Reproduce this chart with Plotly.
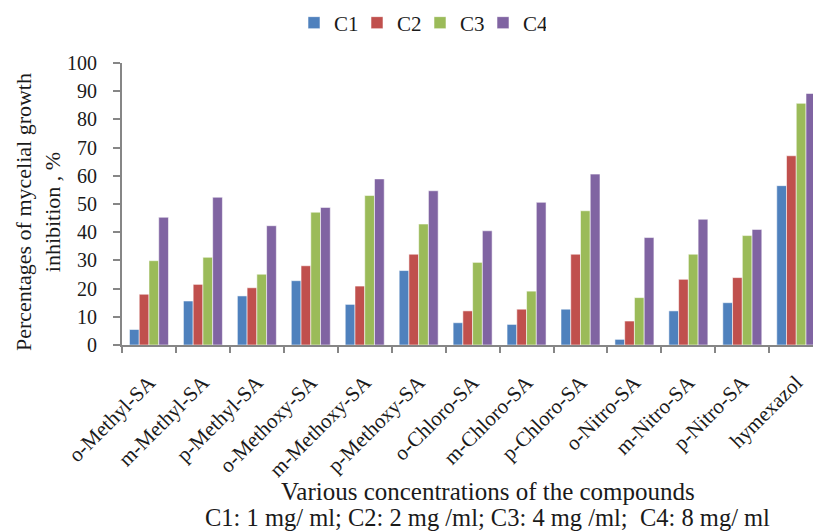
import plotly.graph_objects as go

categories = ["o-Methyl-SA", "m-Methyl-SA", "p-Methyl-SA", "o-Methoxy-SA", "m-Methoxy-SA",
              "p-Methoxy-SA", "o-Chloro-SA", "m-Chloro-SA", "p-Chloro-SA", "o-Nitro-SA",
              "m-Nitro-SA", "p-Nitro-SA", "hymexazol"]
c1 = [5.5, 15.6, 17.4, 22.8, 14.4, 26.4, 7.9, 7.3, 12.7, 2.0, 12.1, 15.0, 56.5]
c2 = [18.0, 21.5, 20.3, 28.1, 20.9, 32.2, 12.1, 12.7, 32.2, 8.5, 23.3, 23.9, 67.1]
c3 = [29.9, 31.1, 25.1, 47.1, 53.0, 42.9, 29.3, 19.1, 47.6, 16.8, 32.2, 38.8, 85.7]
c4 = [45.3, 52.4, 42.3, 48.8, 58.9, 54.7, 40.5, 50.6, 60.6, 38.1, 44.6, 41.0, 89.2]
series_names = ["C1", "C2", "C3", "C4"]
colors = ["#4F81BD", "#C0504D", "#9BBB59", "#8064A2"]

SERIF = "Liberation Serif, Times New Roman, serif"

fig = go.Figure()
for name, vals, col in zip(series_names, [c1, c2, c3, c4], colors):
    fig.add_trace(go.Bar(x=categories, y=vals, name=name, marker_color=col,
                         marker_line=dict(color="rgba(255,255,255,0.55)", width=1)))

W, H = 813, 531
L, R, T, B = 122, 0, 63, 186
pw = W - L - R
ph = H - T - B
cat_w = 53.94

def px_x(p):
    return (p - L) / pw

def px_y(p):
    return (H - B - p) / ph

fig.update_layout(
    width=W, height=H, template="none",
    paper_bgcolor="white", plot_bgcolor="white",
    margin=dict(l=L, r=R, t=T, b=B, autoexpand=False),
    barmode="group", bargap=0.277, bargroupgap=0,
    font=dict(family=SERIF, color="#1a1a1a"),
    showlegend=True,
    legend=dict(orientation="h", x=px_x(294), xanchor="left", y=px_y(23), yanchor="middle",
                font=dict(family=SERIF, size=21, color="#1a1a1a"), itemwidth=30,
                entrywidth=18, entrywidthmode="pixels",
                bgcolor="rgba(0,0,0,0)", traceorder="normal"),
    xaxis=dict(range=[-0.5, -0.5 + pw / cat_w], showgrid=False, zeroline=False,
               showline=True, linecolor="#868686", linewidth=2,
               ticks="outside", tickson="boundaries", ticklen=6, tickcolor="#868686", tickwidth=1.5,
               tickangle=-45, tickfont=dict(family=SERIF, size=21, color="#1a1a1a"),
               ticklabelstandoff=15, automargin=False),
    yaxis=dict(range=[0, 100], tickmode="array", tickvals=list(range(0, 101, 10)),
               showgrid=False, zeroline=False,
               showline=True, linecolor="#868686", linewidth=2,
               ticks="outside", ticklen=7, tickcolor="#868686", tickwidth=1.5,
               tickfont=dict(family=SERIF, size=20, color="#1a1a1a"),
               ticklabelstandoff=12, automargin=False),
    annotations=[
        dict(text="Percentages of mycelial growth<br>inhibition , %", textangle=-90,
             xref="paper", yref="paper", x=px_x(38), y=px_y(212),
             xanchor="center", yanchor="middle", showarrow=False,
             font=dict(family=SERIF, size=22, color="#1a1a1a")),
        dict(text="Various concentrations of the compounds",
             xref="paper", yref="paper", x=px_x(488), y=px_y(491),
             xanchor="center", yanchor="middle", showarrow=False,
             font=dict(family=SERIF, size=25, color="#1a1a1a")),
        dict(text="C1: 1 mg/ ml; C2: 2 mg /ml; C3: 4 mg /ml;  C4: 8 mg/ ml",
             xref="paper", yref="paper", x=px_x(487), y=px_y(517),
             xanchor="center", yanchor="middle", showarrow=False,
             font=dict(family=SERIF, size=24.5, color="#1a1a1a")),
    ],
)

# remove the default page margin so the 813x531 figure fills the window exactly
fig.write_html("out.html", config={"displayModeBar": False},
               post_script="document.body.style.margin='0';document.body.style.overflow='hidden';")
